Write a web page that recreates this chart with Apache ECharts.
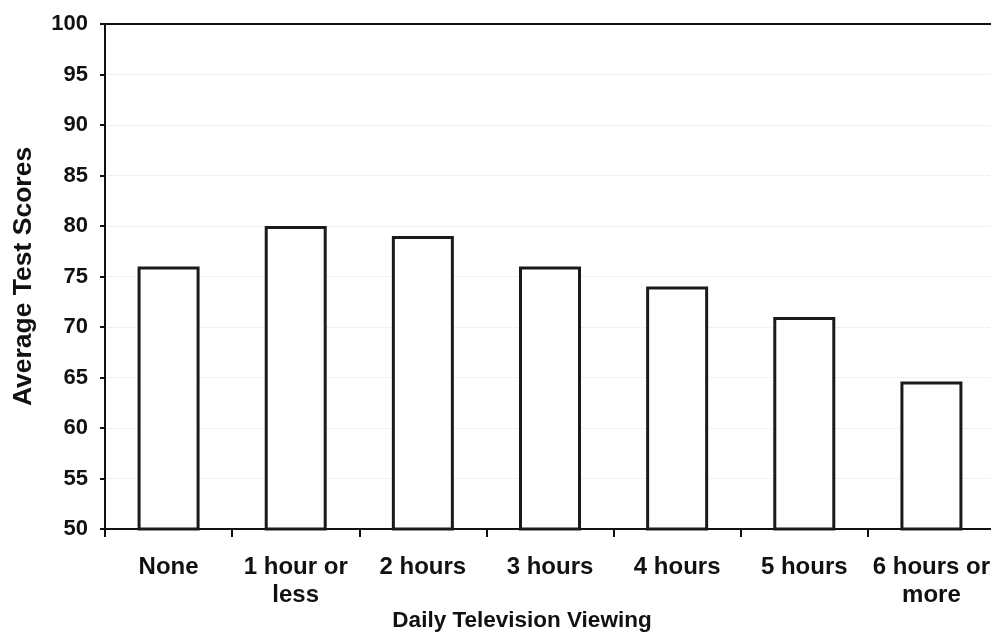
<!DOCTYPE html>
<html>
<head>
<meta charset="utf-8">
<script src="https://cdn.jsdelivr.net/npm/echarts@6/dist/echarts.min.js"></script>
<style>
html,body{margin:0;padding:0;background:#fff;}
#chart{width:991px;height:636px;}
</style>
</head>
<body>
<div id="chart"></div>
<script>
const categories = ['None', '1 hour or\nless', '2 hours', '3 hours', '4 hours', '5 hours', '6 hours or\nmore'];
const scores = [76, 80, 79, 76, 74, 71, 64.6];
const yMin = 50, yMax = 100, yStep = 5;
const xTitle = 'Daily Television Viewing';
const yTitle = 'Average Test Scores';

const FONT = '"Liberation Sans", Arial, sans-serif';
const chart = echarts.init(document.getElementById('chart'), null, {renderer: 'canvas'});
chart.setOption({
  animation: false,
  backgroundColor: '#ffffff',
  grid: {left: 105, top: 24, width: 890, height: 505, containLabel: false, outerBoundsMode: 'none'},
  xAxis: [{
    type: 'category',
    data: categories,
    axisLine: {show: true, lineStyle: {color: '#111', width: 2}},
    axisTick: {show: true, length: 8, lineStyle: {color: '#111', width: 2}},
    axisLabel: {color: '#111', fontFamily: FONT, fontSize: 24, fontWeight: 'bold', margin: 24, lineHeight: 28, interval: 0},
    splitLine: {show: false}
  }, {
    type: 'category',
    position: 'top',
    data: categories,
    axisLine: {show: true, lineStyle: {color: '#111', width: 2}},
    axisTick: {show: false},
    axisLabel: {show: false}
  }],
  yAxis: {
    type: 'value',
    min: yMin, max: yMax, interval: yStep,
    name: yTitle,
    nameLocation: 'middle',
    nameGap: 68,
    nameRotate: 90,
    nameTextStyle: {color: '#111', fontFamily: FONT, fontSize: 26.5, fontWeight: 'bold'},
    axisLine: {show: true, lineStyle: {color: '#111', width: 2}},
    axisTick: {show: true, length: 5, lineStyle: {color: '#111', width: 2}},
    axisLabel: {color: '#111', fontFamily: FONT, fontSize: 22, fontWeight: 'bold', margin: 17},
    splitLine: {show: true, lineStyle: {color: '#e2e2e2', type: 'dotted', width: 1}}
  },
  graphic: [{
    type: 'text',
    x: 522, y: 621,
    style: {text: xTitle, fill: '#111', font: 'bold 22.5px ' + FONT, textAlign: 'center', textVerticalAlign: 'middle'}
  }],
  series: [{
    type: 'bar',
    data: scores,
    barWidth: 62,
    itemStyle: {color: '#ffffff', borderColor: '#1a1a1a', borderWidth: 3}
  }]
});
</script>
</body>
</html>
